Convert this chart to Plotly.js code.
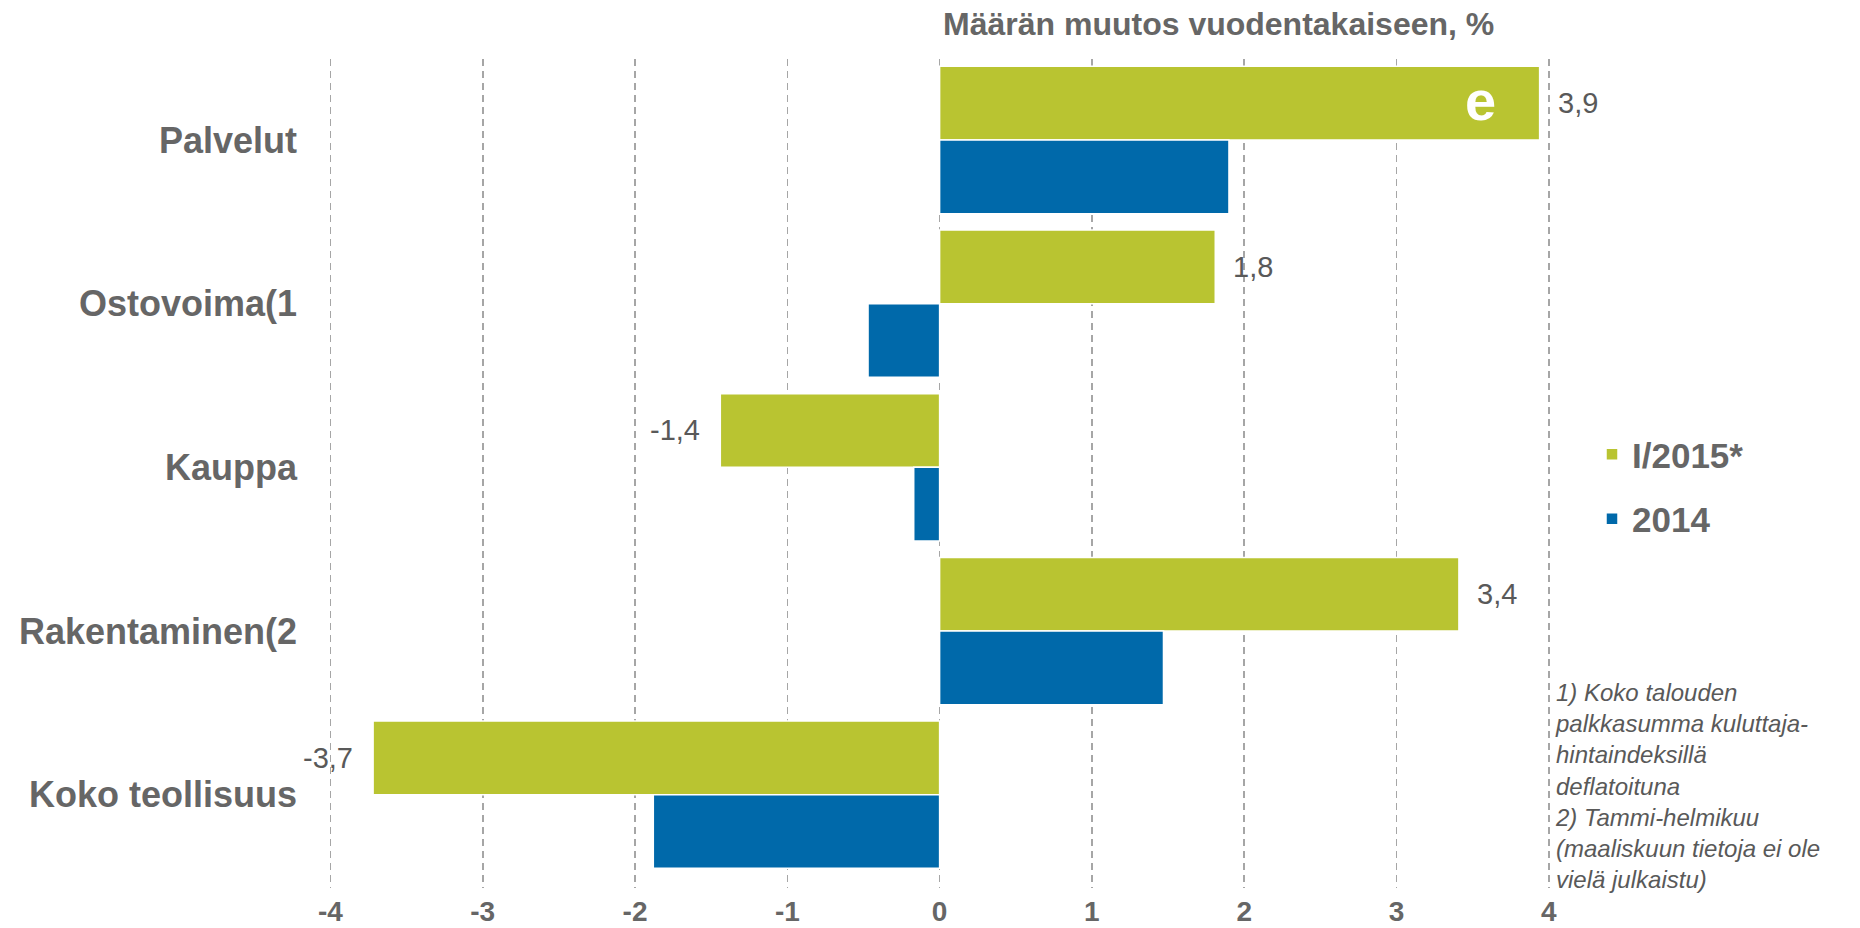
<!DOCTYPE html>
<html>
<head>
<meta charset="utf-8">
<script src="https://cdn.plot.ly/plotly-3.0.1.min.js"></script>
<style>html,body{margin:0;padding:0;background:#fff;}#chart{width:1860px;height:928px;}</style>
</head>
<body>
<div id="chart"></div>
<script>
var categories = ["Palvelut", "Ostovoima(1", "Kauppa", "Rakentaminen(2", "Koko teollisuus"];
var series2015 = [3.94, 1.81, -1.44, 3.41, -3.72];
var series2014 = [1.9, -0.47, -0.17, 1.47, -1.88];
var labels2015 = ["3,9", "1,8", "-1,4", "3,4", "-3,7"];
var tickValues = [-4, -3, -2, -1, 0, 1, 2, 3, 4];
var tickLabels = ["-4", "-3", "-2", "-1", "0", "1", "2", "3", "4"];
var seriesNames = ["I/2015*", "2014"];
var titleText = "Määrän muutos vuodentakaiseen, %";
var noteText = "1) Koko talouden<br>palkkasumma kuluttaja-<br>hintaindeksillä<br>deflatoituna<br>2) Tammi-helmikuu<br>(maaliskuun tietoja ei ole<br>vielä julkaistu)";

var SANS = "'Liberation Sans', Arial, sans-serif";
var GREEN = "#b9c431";
var BLUE = "#0069aa";
var GREY = "#666666";

var traces = [
  {
    type: "bar", orientation: "h", name: seriesNames[0],
    y: categories, x: series2015,
    marker: {color: GREEN, line: {color: "#ffffff", width: 1.5}},
    legendgroup: "a", hoverinfo: "x+y"
  },
  {
    type: "bar", orientation: "h", name: seriesNames[1],
    y: categories, x: series2014,
    marker: {color: BLUE, line: {color: "#ffffff", width: 1.5}},
    legendgroup: "b", hoverinfo: "x+y"
  }
];

var M = {l: 300, r: 296, t: 59, b: 40};
var plotW = 1860 - M.l - M.r;
var plotH = 928 - M.t - M.b;

var annotations = [];
for (var i = 0; i < categories.length; i++) {
  var v = series2015[i];
  annotations.push({
    x: v, y: categories[i], xref: "x", yref: "y",
    text: labels2015[i], showarrow: false,
    xanchor: v >= 0 ? "left" : "right", yanchor: "middle",
    xshift: v >= 0 ? 16 : -18, yshift: 37,
    font: {family: SANS, size: 29, color: "#595959"}
  });
}
annotations.push({
  x: 3.55, y: categories[0], xref: "x", yref: "y", yshift: 40,
  text: "<b>e</b>", showarrow: false, xanchor: "center", yanchor: "middle",
  font: {family: SANS, size: 56, color: "#ffffff"}
});
annotations.push({
  x: (1553 - M.l) / plotW, xref: "paper",
  y: 1 - (895 - M.t) / plotH, yref: "paper",
  text: "<i>" + noteText + "</i>", showarrow: false, align: "left",
  xanchor: "left", yanchor: "bottom",
  font: {family: SANS, size: 24, color: "#595959"}
});

var layout = {
  width: 1860, height: 928,
  margin: M,
  paper_bgcolor: "#ffffff", plot_bgcolor: "#ffffff",
  barmode: "group", bargap: 0.10, bargroupgap: 0,
  showlegend: true,
  legend: {
    x: (1592 - M.l) / plotW, xref: "paper",
    y: 1 - (425 - M.t) / plotH, yref: "paper", yanchor: "top",
    font: {family: SANS, size: 35, color: GREY, weight: "bold"},
    traceorder: "grouped", tracegroupgap: 16, itemwidth: 30
  },
  title: {
    text: "<b>" + titleText + "</b>",
    x: 943 / 1860, xanchor: "left", xref: "container",
    y: 1 - 24 / 928, yanchor: "middle", yref: "container",
    font: {family: SANS, size: 32, color: GREY}
  },
  xaxis: {
    range: [-4.2, 4.1], tickvals: tickValues, ticktext: tickLabels,
    showgrid: true, gridcolor: "#a6a6a6", gridwidth: 1.5, griddash: "7px,5px",
    zeroline: false, showline: false, ticks: "",
    tickfont: {family: SANS, size: 28, color: GREY, weight: "bold"},
    ticklabelstandoff: 4,
    fixedrange: true
  },
  yaxis: {
    type: "category", categoryorder: "array", categoryarray: categories,
    range: [4.57, -0.495], showgrid: false, zeroline: false, showline: false, ticks: "",
    tickfont: {family: SANS, size: 36, color: GREY, weight: "bold"},
    ticklabelstandoff: 2,
    fixedrange: true
  },
  annotations: annotations
};

Plotly.newPlot("chart", traces, layout, {displayModeBar: false, staticPlot: true});
</script>
</body>
</html>
